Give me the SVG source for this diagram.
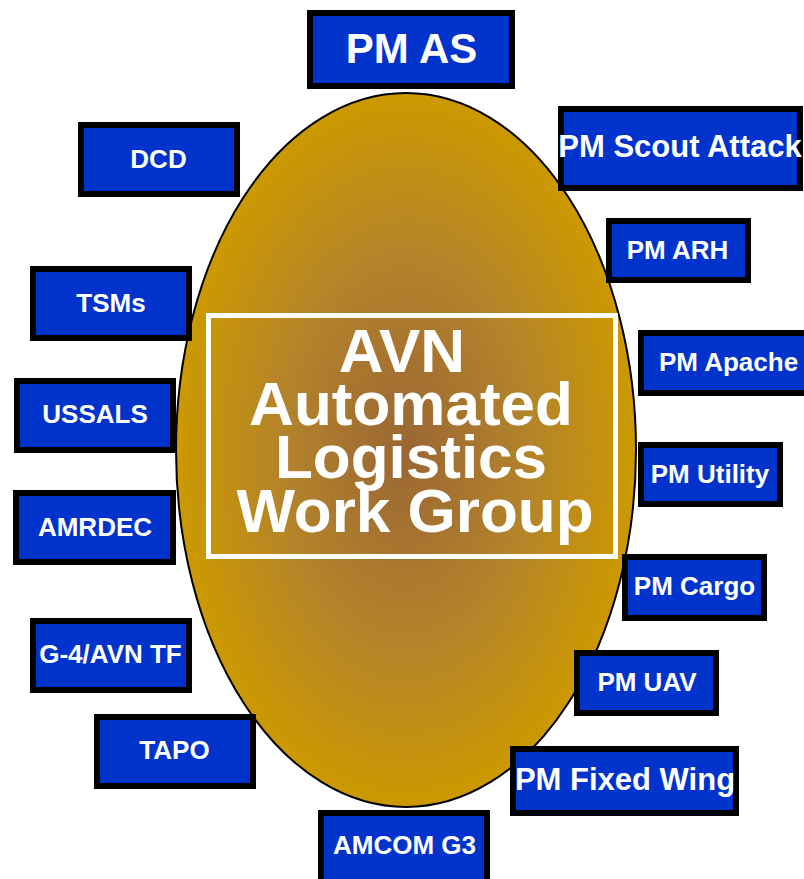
<svg xmlns="http://www.w3.org/2000/svg" width="804" height="879" viewBox="0 0 804 879">
<style>
.box{fill:#0033CC;stroke:#000;stroke-width:6}
.lbl{fill:#fff;font-family:"Liberation Sans",Arial,sans-serif;font-weight:bold;font-size:26px;text-anchor:middle}
.big{font-size:31px}
.title{fill:#fff;font-family:"Liberation Sans",Arial,sans-serif;font-weight:bold;font-size:62px;text-anchor:middle}
</style>
<defs>
<radialGradient id="gold" cx="50%" cy="50%" r="50%">
<stop offset="0" stop-color="#9A6634"/>
<stop offset="0.55" stop-color="#B4842A"/>
<stop offset="1" stop-color="#CC9900"/>
</radialGradient>
</defs>
<rect width="804" height="879" fill="#fff"/>
<g id="center">
<ellipse cx="406" cy="450" rx="230" ry="357" fill="url(#gold)" stroke="#000" stroke-width="2"/>
<rect x="208.5" y="315.5" width="407" height="241" fill="none" stroke="#fff" stroke-width="5"/>
<text class="title"><tspan x="402" y="372">AVN</tspan><tspan x="411" y="425">Automated</tspan><tspan x="411" y="478">Logistics</tspan><tspan x="415" y="532">Work Group</tspan></text>
</g>
<g id="pm-as"><rect class="box" x="310" y="13" width="202" height="73"/><text class="lbl" style="font-size:42px" x="411.5" y="63">PM AS</text></g>
<g id="pm-scout-attack"><rect class="box" x="561" y="109" width="239" height="79"/><text class="lbl big" x="680" y="157">PM Scout Attack</text></g>
<g id="dcd"><rect class="box" x="81" y="125" width="156" height="69"/><text class="lbl" x="158.5" y="168">DCD</text></g>
<g id="pm-arh"><rect class="box" x="609" y="221" width="139" height="59"/><text class="lbl" x="677.5" y="259">PM ARH</text></g>
<g id="tsms"><rect class="box" x="33" y="269" width="156" height="69"/><text class="lbl" x="111" y="312">TSMs</text></g>
<g id="pm-apache"><rect class="box" x="641" y="333" width="170" height="60"/><text class="lbl" x="728.5" y="371">PM Apache</text></g>
<g id="ussals"><rect class="box" x="17" y="381" width="156" height="69"/><text class="lbl" x="95" y="423">USSALS</text></g>
<g id="pm-utility"><rect class="box" x="641" y="445" width="139" height="59"/><text class="lbl" x="710" y="483">PM Utility</text></g>
<g id="amrdec"><rect class="box" x="16" y="493" width="157" height="69"/><text class="lbl" x="95" y="536">AMRDEC</text></g>
<g id="pm-cargo"><rect class="box" x="625" y="557" width="139" height="61"/><text class="lbl" x="694.5" y="595">PM Cargo</text></g>
<g id="g4-avn-tf"><rect class="box" x="33" y="621" width="156" height="69"/><text class="lbl" x="110.5" y="663">G-4/AVN TF</text></g>
<g id="pm-uav"><rect class="box" x="577" y="653" width="139" height="60"/><text class="lbl" x="647" y="691">PM UAV</text></g>
<g id="tapo"><rect class="box" x="97" y="717" width="156" height="69"/><text class="lbl" x="174.5" y="759">TAPO</text></g>
<g id="pm-fixed-wing"><rect class="box" x="513" y="749" width="223" height="64"/><text class="lbl big" x="625" y="790">PM Fixed Wing</text></g>
<g id="amcom-g3"><rect class="box" x="321" y="813" width="166" height="72"/><text class="lbl" x="404.5" y="854">AMCOM G3</text></g>
</svg>
